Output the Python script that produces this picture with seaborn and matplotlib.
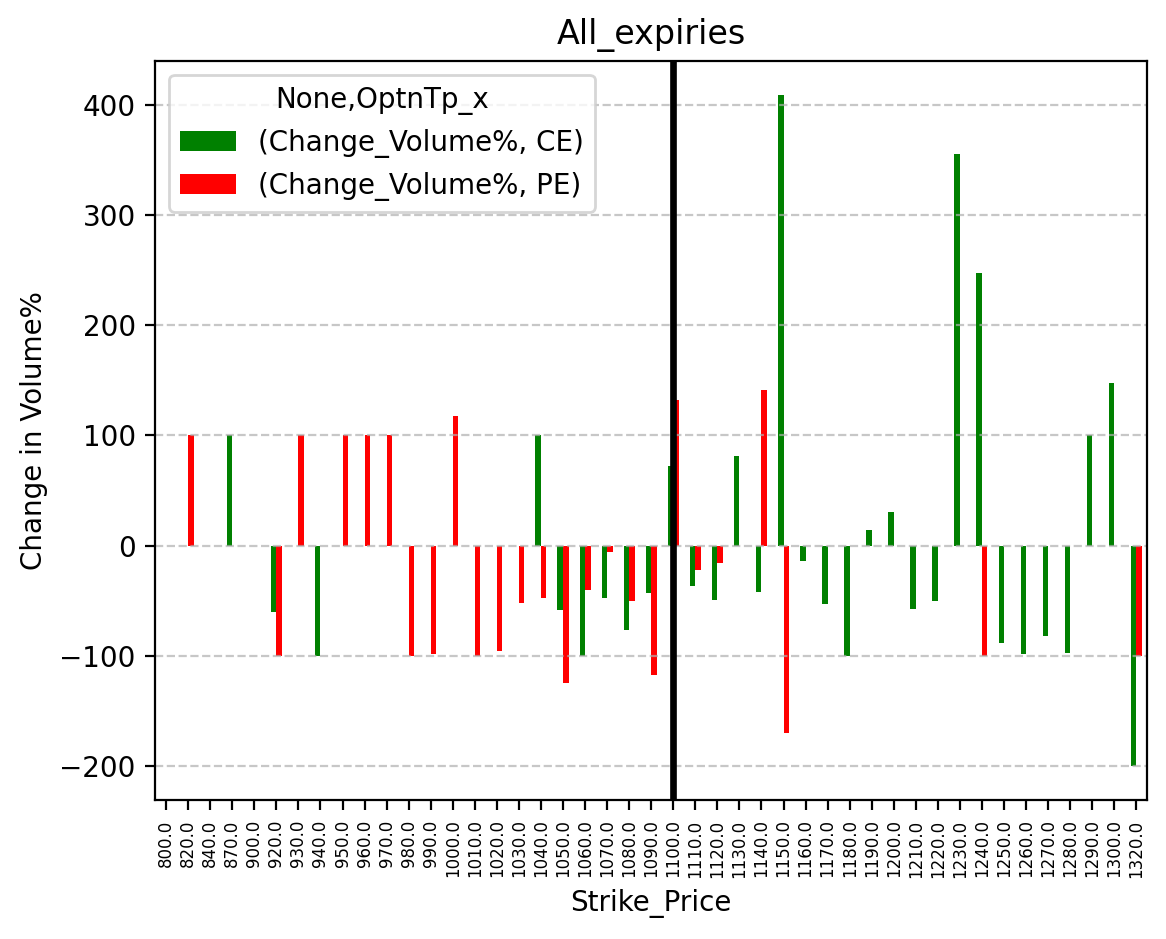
import numpy as np
import pandas as pd
import matplotlib
matplotlib.use('Agg')
import matplotlib.pyplot as plt
import seaborn as sns

nan = np.nan

strikes = [800, 820, 840, 870, 900, 920, 930, 940, 950, 960, 970, 980, 990, 1000,
           1010, 1020, 1030, 1040, 1050, 1060, 1070, 1080, 1090, 1100, 1110, 1120,
           1130, 1140, 1150, 1160, 1170, 1180, 1190, 1200, 1210, 1220, 1230, 1240,
           1250, 1260, 1270, 1280, 1290, 1300, 1320]

ce_change = [nan, nan, nan, 100, nan, -60, nan, -100, nan, nan, nan, nan, nan, nan,
             nan, nan, nan, 100, -58, -100, -47, -76, -43, 72, -36, -49,
             81, -42, 409, -14, -53, -100, 14, 31, -57, -50, 355, 247,
             -88, -98, -82, -97, 100, 148, -200]

pe_change = [nan, 100, nan, nan, nan, -100, 100, nan, 100, 100, 100, -100, -98, 118,
             -100, -95, -52, -47, -124, -40, -6, -50, -117, 132, -22, -16,
             nan, 141, -170, nan, nan, nan, nan, nan, nan, nan, nan, -100,
             nan, nan, nan, nan, nan, nan, -100]

series_names = ['(Change_Volume%, CE)', '(Change_Volume%, PE)']
atm_strike = 1100


def main():
    labels = [f"{float(s):.1f}" for s in strikes]

    # tabla larga para seaborn
    df = pd.DataFrame({
        'Strike_Price': labels * 2,
        'OptnTp_x': [series_names[0]] * len(strikes) + [series_names[1]] * len(strikes),
        'Change': ce_change + pe_change,
    })

    dpi = 200
    fig, ax = plt.subplots(figsize=(1166 / dpi, 939 / dpi), dpi=dpi)
    fig.subplots_adjust(left=0.133, right=0.984, top=0.935, bottom=0.148)

    sns.barplot(data=df, x='Strike_Price', y='Change', hue='OptnTp_x',
                order=labels, hue_order=series_names,
                palette={series_names[0]: 'green', series_names[1]: 'red'},
                width=0.5, errorbar=None, linewidth=0, saturation=1, ax=ax)

    ax.axvline(x=labels.index(f"{float(atm_strike):.1f}"), color='black', linewidth=2.4)

    ax.set_xlim(-0.5, len(labels) - 0.5)
    ax.tick_params(axis='x', labelrotation=90, labelsize=6)
    ax.yaxis.grid(True, linestyle='--', alpha=0.7)
    ax.set_axisbelow('line')

    ax.set_title('All_expiries')
    ax.set_xlabel('Strike_Price')
    ax.set_ylabel('Change in Volume%')
    ax.legend(title='None,OptnTp_x', loc='upper left')

    fig.savefig('out.png', dpi=dpi)


if __name__ == '__main__':
    main()
